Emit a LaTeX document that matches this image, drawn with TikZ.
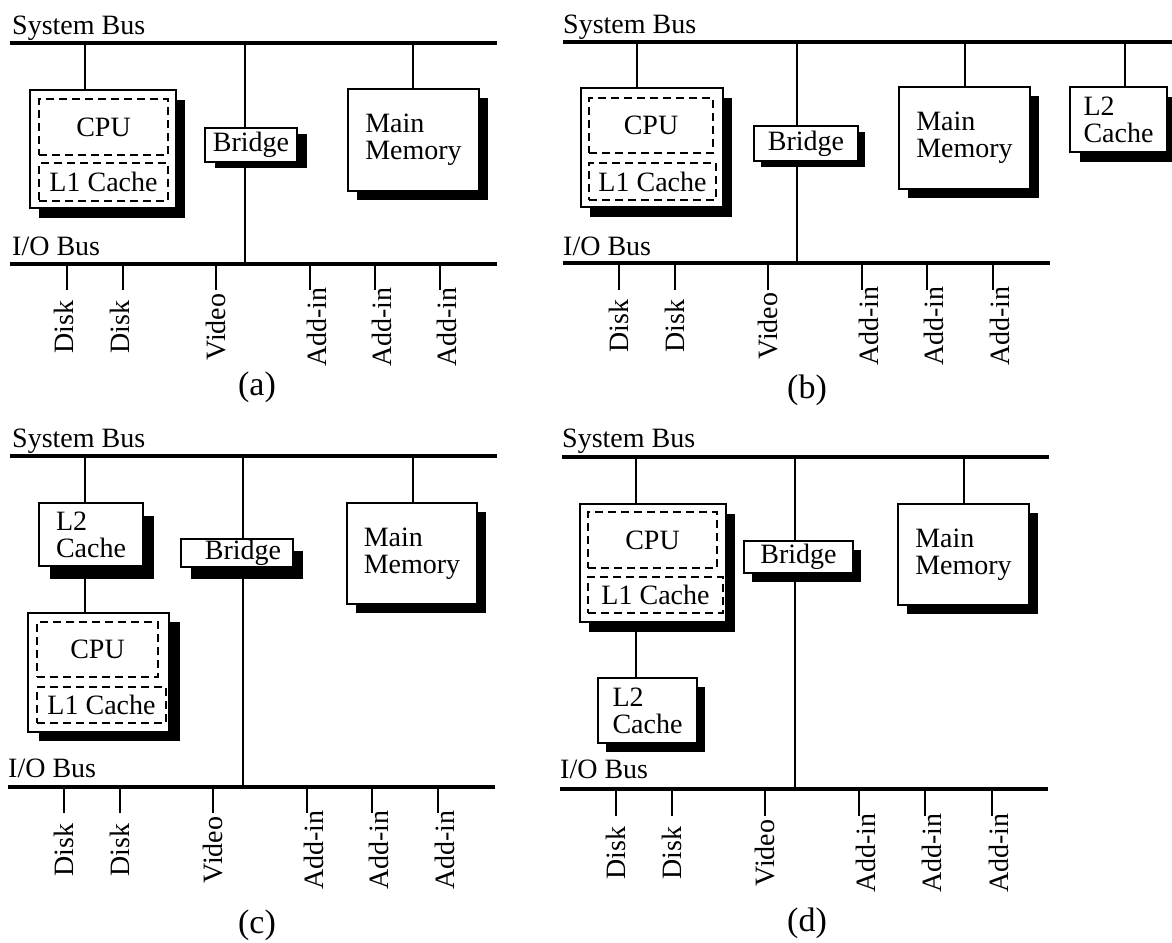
\documentclass[tikz,border=0pt]{standalone}
\usepackage{fontspec}
\setmainfont{Liberation Serif}
\usetikzlibrary{shadows}
\pgfdeclarelayer{bg}
\pgfsetlayers{bg,main}
\tikzset{
  bus/.style={line width=4pt},
  wire/.style={line width=1.8pt},
  box/.style 2 args={draw, fill=white, line width=1.1pt, inner sep=0pt,
    general shadow={fill=black, shadow xshift=#1pt, shadow yshift=-#2pt}},
  dbox/.style={draw, dash pattern=on 8pt off 5pt, line width=2pt, inner sep=0pt},
  lbl/.style={rotate=90, inner sep=0pt, anchor=center},
  captext/.style={inner sep=0pt, font=\fontsize{34}{36}\selectfont},
  titletext/.style={anchor=base west, inner sep=0pt}
}
\begin{document}
\begin{tikzpicture}[x=1pt,y=-1pt,font=\fontsize{28}{27}\selectfont]
\useasboundingbox (0,0) rectangle (1172,942);

% ---------------- (a) ----------------
\node[titletext] (a-sys) at (12,35) {System Bus};
\coordinate (a-sb1) at (10,43); \coordinate (a-sb2) at (497,43);
\node[box={9}{10}, minimum width=146, minimum height=118] (a-cpu) at (103,149) {};
\node[dbox, minimum width=129, minimum height=56] (a-cpuin) at (103.5,127) {CPU};
\node[dbox, minimum width=129, minimum height=38] (a-l1) at (103.5,182) {L1 Cache};
\node[box={10}{6}, minimum width=92, minimum height=34] (a-br) at (251,145) {Bridge};
\node[box={9}{9}, minimum width=131, minimum height=102, align=left] (a-mm) at (413.5,140) {Main\\Memory};
\node[titletext] (a-io) at (12,255) {I/O Bus};
\coordinate (a-ib1) at (10,264); \coordinate (a-ib2) at (497,264);
\coordinate (a-t1) at (85,43); \coordinate (a-t2) at (245,43);
\coordinate (a-t3) at (413,43); \coordinate (a-t2b) at (245,264);
\node[captext] (a-cap) at (257,387) {(a)};
\begin{pgfonlayer}{bg}
\draw[bus] (a-sb1) -- (a-sb2);
\draw[bus] (a-ib1) -- (a-ib2);
\draw[wire] (a-t1) -- (a-t1 |- a-cpu.north);
\draw[wire] (a-t2) -- (a-t2b);
\draw[wire] (a-t3) -- (a-t3 |- a-mm.north);
\end{pgfonlayer}
\foreach \x/\lab/\dx [count=\i] in {67/Disk/-3,123/Disk/-3,216/Video/0,310/Add-in/7,375/Add-in/7,440/Add-in/7} {
  \coordinate (a-s\i) at (\x,264); \coordinate (a-e\i) at (\x,290);
  \node[lbl] (a-l\i) at (\x+\dx,327) {\lab};
  \draw[wire] (a-s\i) -- (a-e\i);
}

% ---------------- (b) ----------------
\node[titletext] (b-sys) at (563,34) {System Bus};
\coordinate (b-sb1) at (563,42); \coordinate (b-sb2) at (1172,42);
\node[box={9}{10}, minimum width=142, minimum height=119] (b-cpu) at (652,147.5) {};
\node[dbox, minimum width=124, minimum height=55] (b-cpuin) at (651,125.5) {CPU};
\node[dbox, minimum width=127, minimum height=37] (b-l1) at (652.5,181.5) {L1 Cache};
\node[box={7}{6}, minimum width=104, minimum height=35] (b-br) at (806,143.5) {Bridge};
\node[box={9}{9}, minimum width=131, minimum height=102, align=left] (b-mm) at (964.5,138) {Main\\Memory};
\node[box={10}{10}, minimum width=97, minimum height=65, align=left] (b-l2) at (1118.5,119.5) {L2\\Cache};
\node[titletext] (b-io) at (563,255) {I/O Bus};
\coordinate (b-ib1) at (563,263); \coordinate (b-ib2) at (1050,263);
\coordinate (b-t1) at (637,42); \coordinate (b-t2) at (797,42);
\coordinate (b-t3) at (965,42); \coordinate (b-t4) at (1125,42);
\coordinate (b-t2b) at (797,263);
\node[captext] (b-cap) at (807,390) {(b)};
\begin{pgfonlayer}{bg}
\draw[bus] (b-sb1) -- (b-sb2);
\draw[bus] (b-ib1) -- (b-ib2);
\draw[wire] (b-t1) -- (b-t1 |- b-cpu.north);
\draw[wire] (b-t2) -- (b-t2b);
\draw[wire] (b-t3) -- (b-t3 |- b-mm.north);
\draw[wire] (b-t4) -- (b-t4 |- b-l2.north);
\end{pgfonlayer}
\foreach \x/\lab/\dx [count=\i] in {619/Disk/0,675/Disk/0,768/Video/0,862/Add-in/7,927/Add-in/7,993/Add-in/7} {
  \coordinate (b-s\i) at (\x,263); \coordinate (b-e\i) at (\x,290);
  \node[lbl] (b-l\i) at (\x+\dx,326) {\lab};
  \draw[wire] (b-s\i) -- (b-e\i);
}

% ---------------- (c) ----------------
\node[titletext] (c-sys) at (12,447) {System Bus};
\coordinate (c-sb1) at (10,456); \coordinate (c-sb2) at (497,456);
\node[box={11}{13}, minimum width=104, minimum height=63, align=left] (c-l2) at (91,534.5) {L2\\Cache};
\node[box={11}{9}, minimum width=141, minimum height=119] (c-cpu) at (98.5,672.5) {};
\node[dbox, minimum width=121, minimum height=55] (c-cpuin) at (97.5,649.5) {CPU};
\node[dbox, minimum width=129, minimum height=36] (c-l1) at (101.5,705) {L1 Cache};
\node[box={10}{12}, minimum width=112, minimum height=28] (c-br) at (237,553) {\hspace*{12pt}Bridge};
\node[box={9}{9}, minimum width=130, minimum height=101, align=left] (c-mm) at (412,553.5) {Main\\Memory};
\node[titletext] (c-io) at (8,777) {I/O Bus};
\coordinate (c-ib1) at (8,787); \coordinate (c-ib2) at (495,787);
\coordinate (c-t1) at (85,456); \coordinate (c-t2) at (243,456);
\coordinate (c-t3) at (413,456); \coordinate (c-t2b) at (243,787);
\node[captext] (c-cap) at (257,925) {(c)};
\begin{pgfonlayer}{bg}
\draw[bus] (c-sb1) -- (c-sb2);
\draw[bus] (c-ib1) -- (c-ib2);
\draw[wire] (c-t1) -- (c-t1 |- c-l2.north);
\draw[wire] (c-t1 |- c-l2.south) -- (c-t1 |- c-cpu.north);
\draw[wire] (c-t2) -- (c-t2b);
\draw[wire] (c-t3) -- (c-t3 |- c-mm.north);
\end{pgfonlayer}
\foreach \x/\lab/\dx [count=\i] in {64/Disk/0,120/Disk/0,213/Video/0,307/Add-in/7,372/Add-in/7,438/Add-in/7} {
  \coordinate (c-s\i) at (\x,787); \coordinate (c-e\i) at (\x,813);
  \node[lbl] (c-l\i) at (\x+\dx,850) {\lab};
  \draw[wire] (c-s\i) -- (c-e\i);
}

% ---------------- (d) ----------------
\node[titletext] (d-sys) at (562,447) {System Bus};
\coordinate (d-sb1) at (562,457); \coordinate (d-sb2) at (1049,457);
\node[box={9}{10}, minimum width=146, minimum height=118] (d-cpu) at (653,563) {};
\node[dbox, minimum width=129, minimum height=56] (d-cpuin) at (652.5,540) {CPU};
\node[dbox, minimum width=135, minimum height=36] (d-l1) at (655.5,595) {L1 Cache};
\node[box={8}{9}, minimum width=99, minimum height=65, align=left] (d-l2) at (647.5,710.5) {L2\\Cache};
\node[box={8}{9}, minimum width=109, minimum height=32] (d-br) at (798.5,557) {Bridge};
\node[box={9}{9}, minimum width=131, minimum height=101, align=left] (d-mm) at (963.5,554.5) {Main\\Memory};
\node[titletext] (d-io) at (560,778) {I/O Bus};
\coordinate (d-ib1) at (560,789); \coordinate (d-ib2) at (1048,789);
\coordinate (d-t1) at (636,457); \coordinate (d-t2) at (795,457);
\coordinate (d-t3) at (964,457); \coordinate (d-t2b) at (795,789);
\node[captext] (d-cap) at (807,923) {(d)};
\begin{pgfonlayer}{bg}
\draw[bus] (d-sb1) -- (d-sb2);
\draw[bus] (d-ib1) -- (d-ib2);
\draw[wire] (d-t1) -- (d-t1 |- d-cpu.north);
\draw[wire] (d-t1 |- d-cpu.south) -- (d-t1 |- d-l2.north);
\draw[wire] (d-t2) -- (d-t2b);
\draw[wire] (d-t3) -- (d-t3 |- d-mm.north);
\end{pgfonlayer}
\foreach \x/\lab/\dx [count=\i] in {616/Disk/0,672/Disk/0,765/Video/0,859/Add-in/7,925/Add-in/7,992/Add-in/7} {
  \coordinate (d-s\i) at (\x,789); \coordinate (d-e\i) at (\x,816);
  \node[lbl] (d-l\i) at (\x+\dx,853) {\lab};
  \draw[wire] (d-s\i) -- (d-e\i);
}
\end{tikzpicture}
\end{document}
